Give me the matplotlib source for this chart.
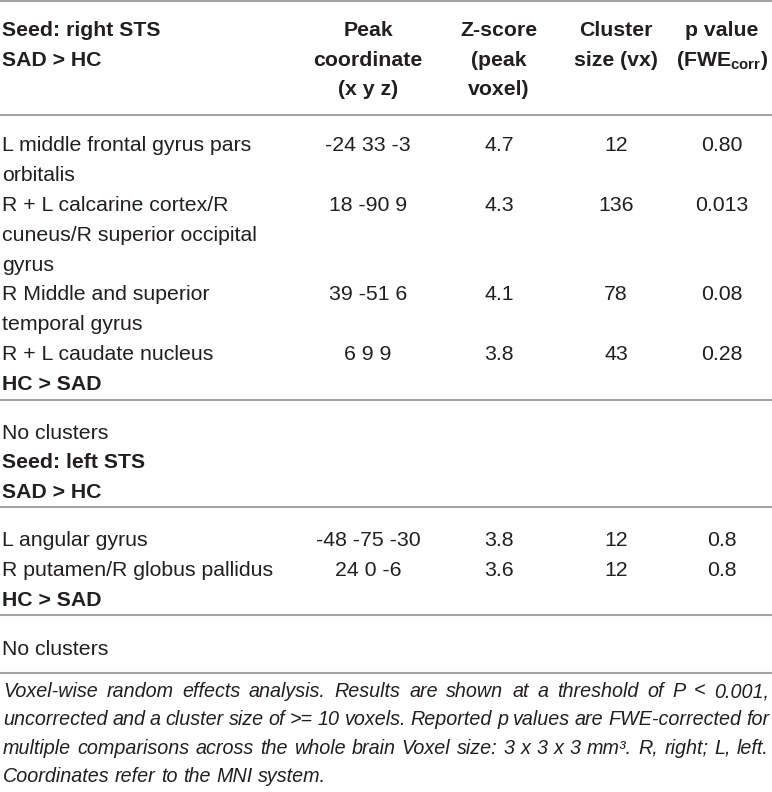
import matplotlib
matplotlib.use("Agg")
import matplotlib.pyplot as plt

plt.rcParams['font.family'] = ['Liberation Sans', 'DejaVu Sans']
plt.rcParams['mathtext.fontset'] = 'custom'
plt.rcParams['mathtext.rm'] = 'Liberation Sans'
plt.rcParams['mathtext.bf'] = 'Liberation Sans:bold'

# Dados da tabela
header_left = ["Seed: right STS", "SAD > HC"]
col_headers = [
    ["Peak", "coordinate", "(x y z)"],
    ["Z-score", "(peak", "voxel)"],
    ["Cluster", "size (vx)"],
    ["p value", r"(FWE$_{\mathbf{corr}}$)"],
]

right_labels = ["L middle frontal gyrus pars\norbitalis",
                "R + L calcarine cortex/R\ncuneus/R superior occipital\ngyrus",
                "R Middle and superior\ntemporal gyrus",
                "R + L caudate nucleus"]
right_coords = ["-24 33 -3", "18 -90 9", "39 -51 6", "6 9 9"]
right_z = ["4.7", "4.3", "4.1", "3.8"]
right_size = ["12", "136", "78", "43"]
right_p = ["0.80", "0.013", "0.08", "0.28"]

left_labels = ["L angular gyrus", "R putamen/R globus pallidus"]
left_coords = ["-48 -75 -30", "24 0 -6"]
left_z = ["3.8", "3.6"]
left_size = ["12", "12"]
left_p = ["0.8", "0.8"]

footnote = [
    "Voxel-wise random effects analysis. Results are shown at a threshold of P < 0.001,",
    "uncorrected and a cluster size of >= 10 voxels. Reported p values are FWE-corrected for",
    "multiple comparisons across the whole brain Voxel size: 3 x 3 x 3 mm\u00b3. R, right; L, left.",
    "Coordinates refer to the MNI system.",
]

W, H = 772, 792
TXT = '#231f20'
RULE = '#a3a3a3'
LEFT = 2
COL_X = [368, 499, 616, 722]
STEP = 29.9
FS = 15.3

fig = plt.figure(figsize=(W / 100, H / 100), dpi=100)
ax = fig.add_axes([0, 0, 1, 1])
ax.set_xlim(0, W)
ax.set_ylim(H, 0)
ax.axis('off')


def rule(y):
    ax.plot([0, W], [y, y], color=RULE, lw=1.5, solid_capstyle='butt')


def put(x, yc, s, ha='left', bold=False, italic=False, size=FS):
    return ax.text(x, yc + 7, s, ha=ha, va='baseline', color=TXT, fontsize=size,
                   fontweight='bold' if bold else 'normal',
                   fontstyle='italic' if italic else 'normal')


# cabeçalho
rule(1)
for i, s in enumerate(header_left):
    put(LEFT, 29 + i * 29.7, s, bold=True)
for x, lines in zip(COL_X, col_headers):
    for i, s in enumerate(lines):
        put(x, 29 + i * 29.7, s, ha='center', bold=True)
rule(115)

# seed: right STS
y = 144
for lab, c, z, n, p in zip(right_labels, right_coords, right_z, right_size, right_p):
    for x, v in zip(COL_X, [c, z, n, p]):
        put(x, y, v, ha='center')
    for ln in lab.split('\n'):
        put(LEFT, y, ln)
        y += STEP
put(LEFT, y, "HC > SAD", bold=True)
rule(400)
put(LEFT, 432, "No clusters")
put(LEFT, 461, "Seed: left STS", bold=True)
put(LEFT, 491, "SAD > HC", bold=True)
rule(507)

# seed: left STS
y = 539
for lab, c, z, n, p in zip(left_labels, left_coords, left_z, left_size, left_p):
    for x, v in zip(COL_X, [c, z, n, p]):
        put(x, y, v, ha='center')
    put(LEFT, y, lab)
    y += STEP
put(LEFT, y, "HC > SAD", bold=True)
rule(615)
put(LEFT, 648, "No clusters")
rule(673)

# nota de rodapé justificada
r = fig.canvas.get_renderer()
x0, x1 = 3, 769
for i, line in enumerate(footnote):
    yc = 690 + i * 28.3
    words = line.split(' ')
    texts = [put(0, yc, w, italic=True, size=14.2) for w in words]
    widths = [t.get_window_extent(r).width for t in texts]
    if i < len(footnote) - 1:
        gap = (x1 - x0 - sum(widths)) / (len(words) - 1)
    else:
        gap = 14.2 * 100 / 72 * 0.278
    x = x0
    for t, w in zip(texts, widths):
        t.set_x(x)
        x += w + gap

fig.savefig("out.png", dpi=100)
